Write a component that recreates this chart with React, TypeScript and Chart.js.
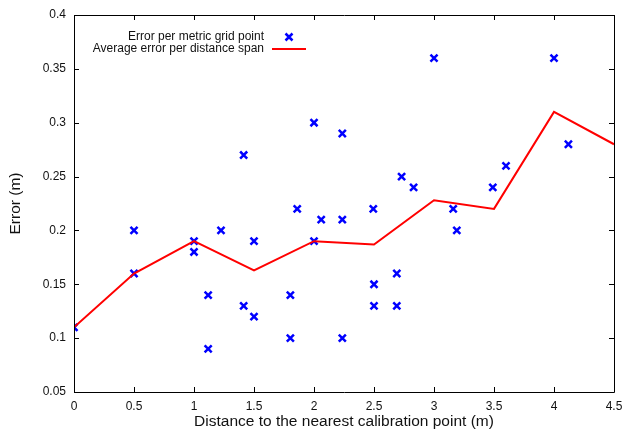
import React, { useEffect, useRef } from "react";
import { Chart, registerables } from "chart.js";

Chart.register(...registerables);

// Error per metric grid point
const gridX = [0, 0.5, 0.5, 1.0, 1.0, 1.118, 1.118, 1.225, 1.414, 1.414, 1.5, 1.5, 1.803, 1.803, 1.86, 2.0, 2.0, 2.06, 2.236, 2.236, 2.236, 2.494, 2.5, 2.5, 2.69, 2.69, 2.73, 2.83, 3.0, 3.16, 3.19, 3.49, 3.6, 4.0, 4.12];
const gridY = [0.11, 0.2, 0.16, 0.19, 0.18, 0.14, 0.09, 0.2, 0.27, 0.13, 0.19, 0.12, 0.14, 0.1, 0.22, 0.3, 0.19, 0.21, 0.29, 0.21, 0.1, 0.22, 0.15, 0.13, 0.16, 0.13, 0.25, 0.24, 0.36, 0.22, 0.2, 0.24, 0.26, 0.36, 0.28];

// Average error per distance span
const spanX = [0, 0.5, 1.0, 1.5, 2.0, 2.5, 3.0, 3.5, 4.0, 4.5];
const spanY = [0.11, 0.16, 0.19, 0.163, 0.19, 0.187, 0.228, 0.22, 0.31, 0.28];

const xTitle = "Distance to the nearest calibration point (m)";
const yTitle = "Error (m)";
const seriesLabels = ["Error per metric grid point", "Average error per distance span"];

const FONT = "'Liberation Sans', Arial, Helvetica, sans-serif";
const TEXT = "#111";

const framePlugin = {
  id: "gnuplotFrame",
  afterDraw(chart: any) {
    const { ctx, chartArea } = chart;
    const { left, right, top, bottom } = chartArea;
    const xs = chart.scales.x;
    const ys = chart.scales.y;
    ctx.save();
    ctx.strokeStyle = "#000";
    ctx.lineWidth = 1;
    ctx.beginPath();
    ctx.rect(Math.round(left) + 0.5, Math.round(top) + 0.5, Math.round(right - left), Math.round(bottom - top));
    ctx.stroke();
    const tl = 5;
    ctx.beginPath();
    xs.ticks.forEach((t: any) => {
      const px = Math.round(xs.getPixelForValue(t.value)) + 0.5;
      ctx.moveTo(px, bottom);
      ctx.lineTo(px, bottom - tl);
      ctx.moveTo(px, top);
      ctx.lineTo(px, top + tl);
    });
    ys.ticks.forEach((t: any) => {
      const py = Math.round(ys.getPixelForValue(t.value)) + 0.5;
      ctx.moveTo(left, py);
      ctx.lineTo(left + tl, py);
      ctx.moveTo(right, py);
      ctx.lineTo(right - tl, py);
    });
    ctx.stroke();

    // axis titles
    ctx.fillStyle = TEXT;
    ctx.font = `15.5px ${FONT}`;
    ctx.textAlign = "center";
    ctx.textBaseline = "middle";
    ctx.fillText(xTitle, (left + right) / 2, 422);
    ctx.save();
    ctx.translate(16, (top + bottom) / 2);
    ctx.rotate(-Math.PI / 2);
    ctx.fillText(yTitle, 0, 0);
    ctx.restore();

    // legend (gnuplot style)
    const ds0 = chart.data.datasets[0];
    const ds1 = chart.data.datasets[1];
    ctx.font = `12px ${FONT}`;
    ctx.textAlign = "right";
    ctx.fillText(ds0.label, 264, 37);
    ctx.fillText(ds1.label, 264, 49);
    ctx.strokeStyle = ds0.borderColor;
    ctx.lineWidth = 2.5;
    const mx = 289, my = 37, r = 3.5;
    ctx.beginPath();
    ctx.moveTo(mx - r, my - r);
    ctx.lineTo(mx + r, my + r);
    ctx.moveTo(mx + r, my - r);
    ctx.lineTo(mx - r, my + r);
    ctx.stroke();
    ctx.strokeStyle = ds1.borderColor;
    ctx.lineWidth = 2;
    ctx.beginPath();
    ctx.moveTo(272, 49);
    ctx.lineTo(306, 49);
    ctx.stroke();
    ctx.restore();
  },
};

const fmt = (v: any) => String(Number(Number(v).toFixed(2)));

export default function App() {
  const ref = useRef<HTMLCanvasElement>(null);
  useEffect(() => {
    if (!ref.current) return;
    const chart = new Chart(ref.current, {
      type: "scatter",
      data: {
        datasets: [
          {
            label: seriesLabels[0],
            data: gridX.map((x, i) => ({ x, y: gridY[i] })),
            pointStyle: "crossRot",
            pointRadius: 5,
            pointHoverRadius: 5,
            borderColor: "#0000ff",
            backgroundColor: "#0000ff",
            pointBorderWidth: 2.5,
            showLine: false,
            order: 2,
          },
          {
            label: seriesLabels[1],
            data: spanX.map((x, i) => ({ x, y: spanY[i] })),
            borderColor: "#ff0000",
            backgroundColor: "#ff0000",
            borderWidth: 2,
            pointRadius: 0,
            showLine: true,
            tension: 0,
            order: 1,
          },
        ],
      },
      options: {
        animation: false,
        responsive: false,
        devicePixelRatio: 1,
        layout: { padding: { left: 0, right: 9, top: 15, bottom: 0 } },
        plugins: { legend: { display: false }, tooltip: { enabled: false } },
        scales: {
          x: {
            type: "linear",
            min: 0,
            max: 4.5,
            grid: { display: false, drawTicks: false },
            border: { display: false },
            ticks: {
              stepSize: 0.5,
              padding: 7,
              color: TEXT,
              font: { family: FONT, size: 12 },
              maxRotation: 0,
              callback: fmt,
            },
            afterFit: (s: any) => { s.height = 40; s.paddingLeft = 0; s.paddingRight = 0; },
          },
          y: {
            type: "linear",
            min: 0.05,
            max: 0.4,
            grid: { display: false, drawTicks: false },
            border: { display: false },
            ticks: {
              stepSize: 0.05,
              padding: 8,
              color: TEXT,
              font: { family: FONT, size: 12 },
              callback: fmt,
            },
            afterFit: (s: any) => { s.width = 74; s.paddingTop = 0; s.paddingBottom = 0; },
          },
        },
      },
      plugins: [framePlugin],
    });
    return () => chart.destroy();
  }, []);
  return (
    <div style={{ position: "fixed", left: 0, top: 0, width: 623, height: 432, background: "#fff" }}>
      <canvas ref={ref} width={623} height={432} style={{ width: 623, height: 432 }} />
    </div>
  );
}
